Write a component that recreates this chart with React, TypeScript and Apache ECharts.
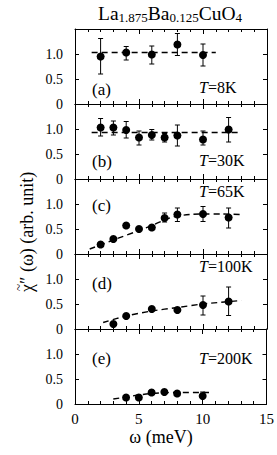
import React, { useEffect, useRef } from "react";
import * as echarts from "echarts";

const panelLabels = ["(a)", "(b)", "(c)", "(d)", "(e)"];
const tempLabels = ["8K", "30K", "65K", "100K", "200K"];
const xTickLabels = ["0", "5", "10", "15"];
const yTickLabels = ["0", "0.5", "1.0"];

// (a) T=8K
const omegaA = [2, 4, 6, 8, 10];
const chiA = [0.95, 1.03, 0.99, 1.19, 0.98];
const lowA = [0.6, 0.88, 0.8, 0.97, 0.76];
const highA = [1.31, 1.15, 1.16, 1.41, 1.2];
const fitA = [[1.3, 1.03], [11, 1.03]];

// (b) T=30K
const omegaB = [2, 3, 4, 5, 6, 7, 8, 10, 12];
const chiB = [1.03, 1.03, 0.98, 0.83, 0.88, 0.83, 0.87, 0.79, 0.99];
const lowB = [0.86, 0.88, 0.82, 0.68, 0.78, 0.74, 0.66, 0.68, 0.74];
const highB = [1.21, 1.16, 1.15, 0.96, 0.99, 0.91, 1.08, 0.96, 1.23];
const fitB = [[1.3, 0.93], [12.9, 0.93]];

// (c) T=65K
const omegaC = [2, 3, 4, 5, 6, 7, 8, 10, 12];
const chiC = [0.19, 0.3, 0.57, 0.5, 0.53, 0.72, 0.79, 0.8, 0.73];
const lowC = [null, null, null, null, null, 0.64, 0.65, 0.65, 0.52];
const highC = [null, null, null, null, null, 0.82, 0.92, 0.95, 0.92];
const fitC = [[1.15, 0.1], [3, 0.28], [5, 0.47], [6, 0.57], [7, 0.68], [7.8, 0.75], [9, 0.79], [10, 0.8], [11.5, 0.8], [13, 0.79]];

// (d) T=100K
const omegaD = [3, 4, 6, 8, 10, 12];
const chiD = [0.1, 0.26, 0.4, 0.38, 0.48, 0.55];
const lowD = [null, null, null, null, 0.28, 0.27];
const highD = [null, null, null, null, 0.66, 0.84];
const fitD = [[2.2, 0.13], [4, 0.26], [6, 0.36], [8, 0.43], [10, 0.5], [13, 0.57]];

// (e) T=200K
const omegaE = [4, 5, 6, 7, 8, 10];
const chiE = [0.13, 0.13, 0.23, 0.24, 0.21, 0.16];
const lowE = [null, null, null, null, null, 0.12];
const highE = [null, null, null, null, null, 0.24];
const fitE = [[3, 0.1], [4, 0.14], [5, 0.18], [6, 0.21], [7, 0.225], [8, 0.23], [10.6, 0.23]];

const panels = [
  { omega: omegaA, chi: chiA, low: lowA, high: highA, fit: fitA, smooth: false },
  { omega: omegaB, chi: chiB, low: lowB, high: highB, fit: fitB, smooth: false },
  { omega: omegaC, chi: chiC, low: lowC, high: highC, fit: fitC, smooth: 0.3 },
  { omega: omegaD, chi: chiD, low: lowD, high: highD, fit: fitD, smooth: 0.3 },
  { omega: omegaE, chi: chiE, low: lowE, high: highE, fit: fitE, smooth: 0.3 },
];

const FONT = "Liberation Serif";
const GRID_LEFT = 75;
const GRID_W = 192;
const GRID_TOP = 29;
const GRID_H = 75;

// label centre offsets from grid top
const panelLabelOffset = [60, 57, 26, 29, 29];
const tempLabelOffset = [58, 56, 12, 12, 29];

export default function App() {
  const ref = useRef<HTMLDivElement>(null);
  useEffect(() => {
    if (!ref.current) return;
    const chart = echarts.init(ref.current, null, { renderer: "svg" });
    const grids: any[] = [];
    const xAxes: any[] = [];
    const yAxes: any[] = [];
    const series: any[] = [];
    const axisLine = { show: true, onZero: false, lineStyle: { color: "#000", width: 1 } };

    panels.forEach((p, i) => {
      grids.push({ left: GRID_LEFT, width: GRID_W, top: GRID_TOP + i * GRID_H, height: GRID_H });
      const isLast = i === panels.length - 1;
      const xBase = {
        type: "value",
        gridIndex: i,
        min: 0,
        max: 15,
        interval: 5,
        axisLine,
        axisTick: { show: true, inside: true, length: 5, lineStyle: { color: "#000" } },
        minorTick: { show: true, splitNumber: 5, length: 3, lineStyle: { color: "#000" } },
        splitLine: { show: false },
      };
      xAxes.push({
        ...xBase,
        position: "bottom",
        axisLabel: {
          show: isLast,
          color: "#000",
          fontFamily: FONT,
          fontSize: 15,
          margin: 7,
          formatter: (v: number) => xTickLabels[Math.round(v / 5)] ?? "",
        },
      });
      xAxes.push({ ...xBase, position: "top", axisLabel: { show: false } });
      const yBase = {
        type: "value",
        gridIndex: i,
        min: 0,
        max: 1.5,
        interval: 0.5,
        axisLine,
        axisTick: { show: true, inside: true, length: 4, lineStyle: { color: "#000" } },
        splitLine: { show: false },
      };
      yAxes.push({
        ...yBase,
        position: "left",
        axisLabel: {
          show: true,
          color: "#000",
          fontFamily: FONT,
          fontSize: 14,
          margin: 12,
          formatter: (v: number) => yTickLabels[Math.round(v / 0.5)] ?? "",
        },
      });
      yAxes.push({ ...yBase, position: "right", axisLabel: { show: false } });

      const xi = i * 2;
      const yi = i * 2;
      series.push({
        type: "line",
        xAxisIndex: xi,
        yAxisIndex: yi,
        data: p.fit,
        smooth: p.smooth,
        showSymbol: false,
        symbol: "none",
        lineStyle: { color: "#000", width: 1.4, type: [6, 4] },
        z: 2,
      });
      const errData = p.omega
        .map((w, k) => [w, p.low[k], p.high[k]])
        .filter((d) => d[1] != null && d[2] != null);
      series.push({
        type: "custom",
        xAxisIndex: xi,
        yAxisIndex: yi,
        data: errData,
        encode: { x: 0, y: [1, 2] },
        z: 3,
        renderItem: (params: any, api: any) => {
          const x = api.value(0);
          const lo = api.value(1);
          const hi = api.value(2);
          const t = api.coord([x, hi]);
          const b = api.coord([x, lo]);
          const w = 2.5;
          const style = { stroke: "#000", lineWidth: 1 };
          return {
            type: "group",
            children: [
              { type: "line", shape: { x1: t[0], y1: t[1], x2: b[0], y2: b[1] }, style },
              { type: "line", shape: { x1: t[0] - w, y1: t[1], x2: t[0] + w, y2: t[1] }, style },
              { type: "line", shape: { x1: b[0] - w, y1: b[1], x2: b[0] + w, y2: b[1] }, style },
            ],
          };
        },
      });
      series.push({
        type: "scatter",
        xAxisIndex: xi,
        yAxisIndex: yi,
        data: p.omega.map((w, k) => [w, p.chi[k]]),
        symbol: "circle",
        symbolSize: 8,
        itemStyle: { color: "#000", opacity: 1 },
        z: 4,
      });
    });

    const graphic: any[] = [];
    panelLabels.forEach((lab, i) => {
      graphic.push({
        type: "text",
        x: 92,
        y: GRID_TOP + i * GRID_H + panelLabelOffset[i],
        style: {
          text: lab,
          fontFamily: FONT,
          fontSize: 17,
          fill: "#000",
          align: "left",
          verticalAlign: "middle",
        },
      });
      graphic.push({
        type: "text",
        x: 199,
        y: GRID_TOP + i * GRID_H + tempLabelOffset[i],
        style: {
          text: `{i|T}{n|=${tempLabels[i]}}`,
          align: "left",
          verticalAlign: "middle",
          rich: {
            i: { fontFamily: FONT, fontSize: 16, fontStyle: "italic", fill: "#000" },
            n: { fontFamily: FONT, fontSize: 16, fill: "#000" },
          },
        },
      });
    });
    graphic.push({
      type: "text",
      x: 170,
      y: 13,
      style: {
        text: "{m|La}{s|1.875}{m|Ba}{s|0.125}{m|CuO}{s|4}",
        align: "center",
        verticalAlign: "middle",
        rich: {
          m: { fontFamily: FONT, fontSize: 19.5, fill: "#000" },
          s: { fontFamily: FONT, fontSize: 13, padding: [9, 0, 0, 0], fill: "#000" },
        },
      },
    });
    graphic.push({
      type: "text",
      x: 161,
      y: 437,
      style: {
        text: "ω (meV)",
        fontFamily: FONT,
        fontSize: 18,
        fill: "#000",
        align: "center",
        verticalAlign: "middle",
      },
    });
    graphic.push({
      type: "group",
      x: 27,
      y: 292,
      rotation: Math.PI / 2,
      children: [
        {
          type: "text",
          x: 0,
          y: 0,
          style: {
            text: "χ″ (ω) (arb. unit)",
            fontFamily: FONT,
            fontSize: 18,
            fill: "#000",
            align: "left",
            verticalAlign: "middle",
          },
        },
        {
          type: "text",
          x: 1,
          y: -9,
          style: {
            text: "~",
            fontFamily: FONT,
            fontSize: 13,
            fill: "#000",
            align: "left",
            verticalAlign: "middle",
          },
        },
      ],
    });

    chart.setOption({
      animation: false,
      backgroundColor: "#fff",
      grid: grids,
      xAxis: xAxes,
      yAxis: yAxes,
      series,
      graphic,
    });
    return () => chart.dispose();
  }, []);
  return (
    <div
      ref={ref}
      style={{ position: "absolute", left: 0, top: 0, width: 277, height: 455 }}
    />
  );
}
